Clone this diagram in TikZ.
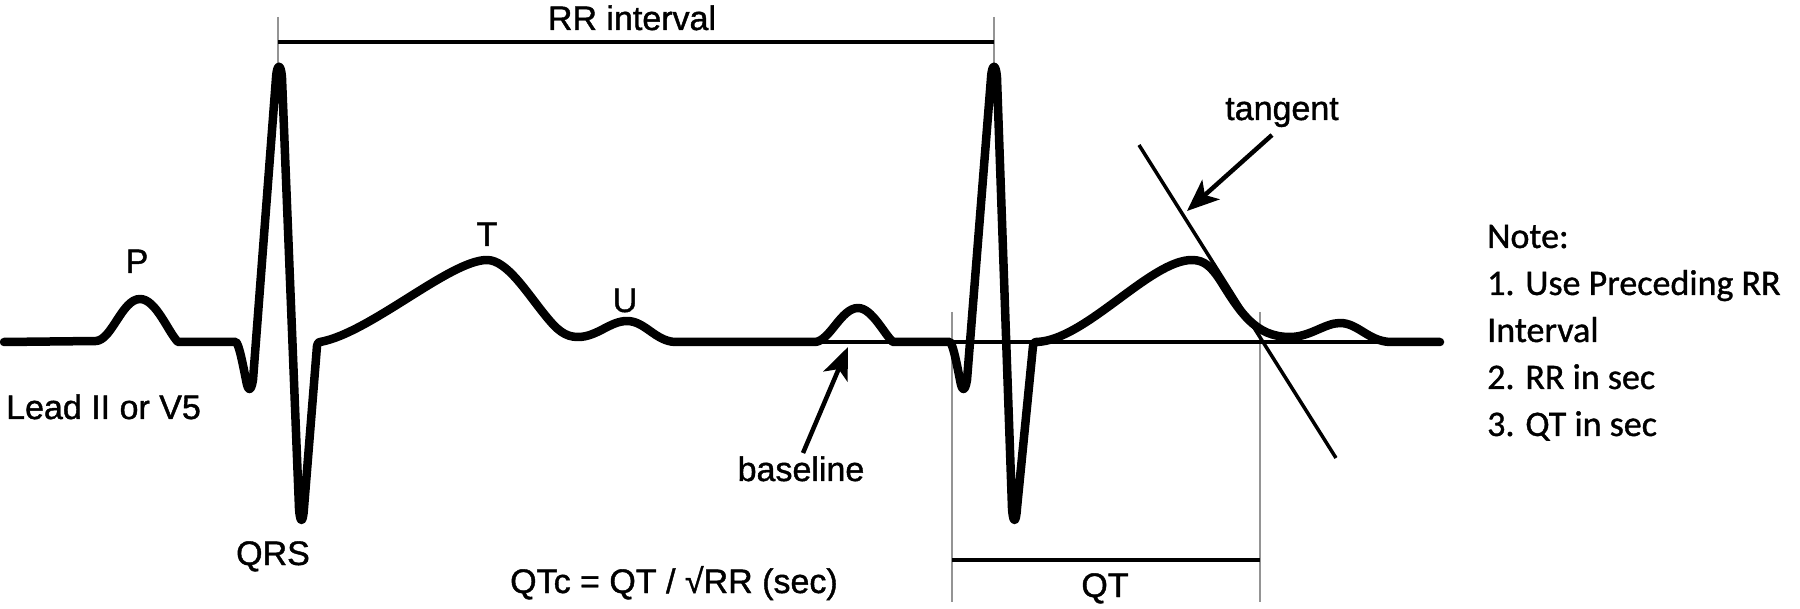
\documentclass[tikz,border=0pt]{standalone}
\usepackage{fontspec}
\setmainfont{Liberation Sans}[FakeBold=1.2]
\newfontfamily\notefont{Carlito}[FakeBold=1]
\usetikzlibrary{arrows.meta}
\begin{document}
\begin{tikzpicture}[x=1pt,y=-1pt,
  trace/.style={line width=8.5pt, line join=round, line cap=round},
  guide/.style={line width=2pt, draw=black!42},
  measure/.style={line width=4pt},
  thinline/.style={line width=3.2pt},
  pointer/.style={line width=4.5pt, -{Stealth[length=32pt,width=26pt,inset=8pt]}},
  lbl/.style={inner sep=0pt, anchor=base, font=\fontsize{34}{40}\selectfont},
  lblw/.style={inner sep=0pt, anchor=base west, font=\fontsize{34}{40}\selectfont},
  note/.style={inner sep=0pt, anchor=base west, font=\notefont\fontsize{36}{44}\selectfont}]
\useasboundingbox (0,0) rectangle (1800,609);

% guide coordinates
\coordinate (rrAt) at (278,17);
\coordinate (rrAb) at (278,63);
\coordinate (rrBt) at (994,17);
\coordinate (rrBb) at (994,63);
\coordinate (rrL) at (278,42);
\coordinate (rrR) at (994,42);
\coordinate (qtAt) at (952,312);
\coordinate (qtAb) at (952,602);
\coordinate (qtBt) at (1260,312);
\coordinate (qtBb) at (1260,602);
\coordinate (qtL) at (952,560);
\coordinate (qtR) at (1260,560);
\coordinate (blL) at (819,342);
\coordinate (blR) at (1440,342);
\coordinate (tgTop) at (1139,145);
\coordinate (tgBot) at (1336,458);
\coordinate (tgFrom) at (1272,135);
\coordinate (tgTip) at (1187,211);
\coordinate (bsFrom) at (803,453);
\coordinate (bsTip) at (848,347);

% guides
\draw[guide] (rrAt) -- (rrAb);
\draw[guide] (rrBt) -- (rrBb);
\draw[guide] (qtAt) -- (qtAb);
\draw[guide] (qtBt) -- (qtBb);
\draw[measure] (rrL) -- (rrR);
\draw[measure] (qtL) -- (qtR);
\draw[thinline] (blL) -- (blR);
\draw[line width=3.5pt] (tgTop) -- (tgBot);

% ECG trace
\draw[trace] (4,342) -- (96,341)
 .. controls (112,340) and (122,299) .. (140,299)
 .. controls (156,299) and (168,332) .. (178,342)
 -- (236,342) .. controls (239,345) and (242,360) .. (246,380)
 .. controls (248,392) and (251,392) .. (253,380)
 -- (276,78) .. controls (277,63) and (281,63) .. (282,78)
 -- (299,508) .. controls (300,524) and (303,524) .. (304,508)
 -- (317,346) .. controls (318,343) and (318,342) .. (320,342)
 .. controls (370,333) and (450,260) .. (487,260)
 .. controls (507,260) and (527,293) .. (545,315)
 .. controls (557,330) and (565,337) .. (578,337)
 .. controls (597,337) and (610,321) .. (627,321)
 .. controls (645,321) and (655,341) .. (675,342)
 -- (815,342)
 .. controls (830,341) and (841,308) .. (858,308)
 .. controls (872,308) and (884,334) .. (893,342)
 -- (950,342) .. controls (953,345) and (956,360) .. (960,380)
 .. controls (962,392) and (965,392) .. (967,380)
 -- (991,78) .. controls (992,63) and (996,63) .. (997,78)
 -- (1012,508) .. controls (1013,524) and (1016,524) .. (1017,508)
 -- (1033,346) .. controls (1034,343) and (1034,342) .. (1036,342)
 .. controls (1085,341) and (1150,260) .. (1192,260)
 .. controls (1205,260) and (1212,268) .. (1220,280)
 .. controls (1240,312) and (1255,337) .. (1290,337)
 .. controls (1310,337) and (1325,323) .. (1340,323)
 .. controls (1358,323) and (1368,341) .. (1390,342)
 -- (1440,342);

% pointers
\draw[pointer] (tgFrom) -- (tgTip);
\draw[pointer] (bsFrom) -- (bsTip);

% labels
\node[lbl] (rrtxt) at (632,30) {RR interval};
\node[lbl] (ptxt) at (137,273) {P};
\node[lbl] (ttxt) at (487,246) {T};
\node[lbl] (utxt) at (625,312) {U};
\node[lblw] (leadtxt) at (6,419) {Lead II or V5};
\node[lbl] (qrstxt) at (273,565) {QRS};
\node[lbl] (basetxt) at (801,481) {baseline};
\node[lblw] (qtctxt) at (510,593) {QTc = QT / √RR (sec)};
\node[lbl] (qttxt) at (1105,597) {QT};
\node[lbl] (tantxt) at (1282,120) {tangent};

\node[note] (n1) at (1487,248) {Note:};
\node[note] (n2) at (1487,295) {1. Use Preceding RR};
\node[note] (n3) at (1487,342) {Interval};
\node[note] (n4) at (1487,389) {2. RR in sec};
\node[note] (n5) at (1487,436) {3. QT in sec};
\end{tikzpicture}
\end{document}
